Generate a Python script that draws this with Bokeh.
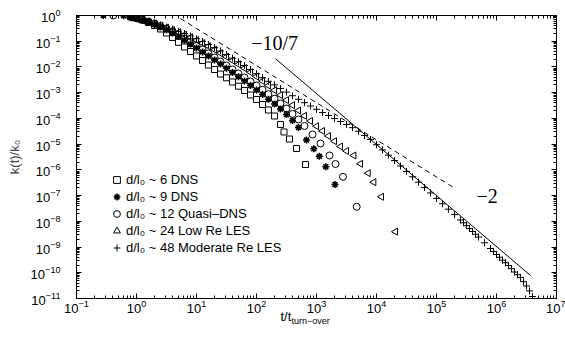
import numpy as np
from bokeh.plotting import figure
from bokeh.models import (Range1d, LogAxis, FixedTicker, Legend, LegendItem, Label, Title,
                          CustomJSTickFormatter)
from bokeh.embed import file_html
from bokeh.resources import INLINE

# ---------------- data ----------------
sq_t = [0.794, 1.0, 1.26, 1.58, 2.0, 2.51, 3.16, 3.98, 5.01, 6.31, 7.94, 10.0, 12.6, 15.8, 20.0,
        25.1, 31.6, 39.8, 50.1, 63.1, 79.4, 100, 126, 158, 200, 251, 287, 355, 464, 656]
sq_k = [0.914, 0.800, 0.668, 0.534, 0.409, 0.299, 0.209, 0.140, 0.0909, 0.0597, 0.0399, 0.0267,
        0.0178, 0.0119, 7.96e-3, 5.28e-3, 3.79e-3, 2.60e-3, 1.79e-3, 1.22e-3, 8.13e-4, 5.44e-4,
        3.47e-4, 2.12e-4, 1.24e-4, 5.81e-5, 2.97e-5, 1.58e-5, 6.78e-6, 1.62e-6]

st_t = [0.28, 0.61, 0.794, 1.0, 1.26, 1.58, 2.0, 2.51, 3.16, 3.98, 5.01, 6.31, 7.94, 10, 12.6,
        15.8, 20, 25.1, 31.6, 39.8, 50.1, 63.1, 79.4, 100, 126, 158, 200, 251, 316, 398, 501,
        681, 902, 1114, 1429, 2032]
st_k = [1.0, 0.98, 0.851, 0.764, 0.651, 0.544, 0.447, 0.354, 0.273, 0.207, 0.153, 0.109, 0.0773,
        0.0546, 0.0382, 0.0267, 0.0186, 0.0130, 8.87e-3, 6.09e-3, 4.18e-3, 2.85e-3, 1.90e-3,
        1.27e-3, 8.51e-4, 5.58e-4, 3.63e-4, 2.32e-4, 1.42e-4, 8.30e-5, 4.44e-5,
        1.45e-5, 6.59e-6, 3.37e-6, 1.32e-6, 2.70e-7]

ci_t = [0.41, 0.794, 1.0, 1.26, 1.58, 2.0, 2.51, 3.16, 3.98, 5.01, 6.31, 7.94, 10, 12.6, 15.8,
        20, 25.1, 31.6, 39.8, 50.1, 63.1, 79.4, 100, 126, 158, 200, 251, 316, 398, 501, 631,
        858, 1167, 1648, 2075, 2767, 4677]
ci_k = [1.0, 0.874, 0.792, 0.687, 0.584, 0.489, 0.391, 0.312, 0.239, 0.178, 0.128, 0.0933,
        0.0664, 0.0477, 0.0333, 0.0233, 0.0163, 0.0114, 7.96e-3, 5.57e-3, 3.89e-3, 2.72e-3,
        1.90e-3, 1.30e-3, 8.73e-4, 5.84e-4, 3.80e-4, 2.43e-4, 1.49e-4, 9.08e-5, 5.07e-5,
        2.37e-5, 1.06e-5, 3.62e-6, 1.69e-6, 5.38e-7, 3.67e-8]

tr_t = [0.794, 1.0, 1.26, 1.58, 2.0, 2.51, 3.16, 3.98, 5.01, 6.31, 7.94, 10, 12.6, 15.8, 20,
        25.1, 31.6, 39.8, 50.1, 63.1, 79.4, 100, 126, 158, 200, 251, 316, 398, 501, 631, 794,
        1000, 1259, 1585, 1995, 2512, 3162, 4190, 5410, 7270, 9020, 12100, 20700]
tr_k = [0.821, 0.738, 0.651, 0.564, 0.480, 0.405, 0.333, 0.273, 0.222, 0.179, 0.142, 0.111,
        0.0846, 0.0635, 0.0469, 0.0343, 0.0248, 0.0178, 0.01268, 8.95e-3, 6.20e-3, 4.26e-3,
        2.85e-3, 1.90e-3, 1.25e-3, 8.05e-4, 5.15e-4, 3.27e-4, 2.03e-4, 1.26e-4, 7.94e-5,
        4.99e-5, 3.24e-5, 2.07e-5, 1.30e-5, 8.1e-6, 5.42e-6, 3.62e-6, 1.72e-6, 7.43e-7,
        3.32e-7, 9.0e-8, 3.96e-9]

cr_t = [0.794, 1.0, 1.26, 1.58, 2.0, 2.51, 3.16, 3.98, 5.01, 6.31, 7.94,
        10, 12.6, 15.8, 20, 25.1, 31.6, 39.8, 50.1, 63.1, 79.4,
        100, 126, 158, 200, 251, 316, 398, 501, 631, 794,
        1000, 1259, 1585, 1995, 2512, 3162, 3981, 5012, 6310, 7943,
        1.0e4, 1.26e4, 1.58e4, 2.0e4, 2.51e4, 3.16e4, 3.98e4, 5.01e4, 6.31e4, 7.94e4,
        1.0e5, 1.26e5, 1.58e5, 2.0e5, 2.51e5, 2.82e5, 3.16e5, 3.55e5, 3.98e5, 4.47e5, 5.01e5,
        6.31e5, 7.94e5, 8.91e5,
        1.0e6, 1.12e6, 1.26e6, 1.41e6, 1.58e6, 1.78e6, 2.0e6, 2.24e6, 2.51e6, 2.82e6, 3.16e6,
        3.55e6, 3.98e6]
cr_k = [0.84, 0.75, 0.67, 0.58, 0.50, 0.43, 0.354, 0.294, 0.243, 0.20, 0.16,
        0.125, 0.098, 0.0746, 0.0561, 0.0417, 0.0305, 0.0219, 0.0159, 0.0114, 7.96e-3,
        5.47e-3, 3.83e-3, 2.77e-3, 2.01e-3, 1.46e-3, 1.05e-3, 7.64e-4, 5.53e-4, 4.08e-4, 3.04e-4,
        2.26e-4, 1.70e-4, 1.30e-4, 9.93e-5, 7.59e-5, 5.81e-5, 4.36e-5, 3.16e-5, 2.17e-5, 1.52e-5,
        9.5e-6, 6.0e-6, 3.72e-6, 2.30e-6, 1.42e-6, 8.73e-7, 5.38e-7, 3.32e-7, 2.05e-7, 1.26e-7,
        7.8e-8, 4.81e-8, 2.96e-8, 1.83e-8, 1.13e-8, 8.77e-9, 6.78e-9, 5.22e-9, 4.03e-9, 3.13e-9,
        2.44e-9, 1.47e-9, 8.79e-10, 6.73e-10,
        5.14e-10, 4.0e-10, 3.09e-10, 2.45e-10, 1.92e-10, 1.44e-10, 1.07e-10, 8.43e-11, 6.56e-11,
        4.51e-11, 3.07e-11, 1.96e-11, 1.20e-11]

# reference power-law guide lines (end points)
slope107_t = [5.4, 1.9e5]
slope107_k = [0.76, 2.1e-7]
slope2_t = [207, 3.7e6]
slope2_k = [0.021, 7.8e-11]

legend_labels = ["d/l\u2080 ~ 6 DNS", "d/l\u2080 ~ 9 DNS", "d/l\u2080 ~ 12 Quasi\u2013DNS",
                 "d/l\u2080 ~ 24 Low Re LES", "d/l\u2080 ~ 48 Moderate Re LES"]

x_major = [10.0 ** e for e in range(-1, 8)]
y_major = [10.0 ** e for e in range(-11, 1)]
x_minor = [m * 10.0 ** e for e in range(-1, 7) for m in range(2, 10)]
y_minor = [m * 10.0 ** e for e in range(-11, 0) for m in range(2, 10)]

# ---------------- figure ----------------
FONT = "Liberation Sans"
p = figure(width=565, height=345, x_axis_type="log", y_axis_type="log",
           x_range=Range1d(1e-1, 1e7), y_range=Range1d(1e-11, 1e0),
           output_backend="svg", toolbar_location=None,
           min_border_left=76, min_border_right=9, min_border_top=15, min_border_bottom=47)
p.grid.visible = False
p.outline_line_color = "black"
p.outline_line_width = 1
p.background_fill_color = "white"
p.border_fill_color = "white"


def style_axis(ax, ticker, labels=True):
    ax.ticker = ticker
    ax.axis_line_color = "black"
    ax.major_tick_line_color = "black"
    ax.minor_tick_line_color = "black"
    ax.major_tick_in = 5
    ax.major_tick_out = 0
    ax.minor_tick_in = 3
    ax.minor_tick_out = 0
    ax.major_label_text_font = FONT
    ax.major_label_text_color = "black"
    ax.major_label_text_font_size = "13px"
    if not labels:
        ax.major_label_text_alpha = 0
        ax.major_label_text_font_size = "1px"
        ax.major_label_standoff = 0
        ax.axis_label_standoff = 0
        ax.axis_label_text_font_size = "1px"


xt = FixedTicker(ticks=x_major, minor_ticks=x_minor)
yt = FixedTicker(ticks=y_major, minor_ticks=y_minor)
style_axis(p.xaxis[0], xt)
style_axis(p.yaxis[0], yt)
p.xaxis[0].major_label_standoff = 1
p.yaxis[0].major_label_standoff = 16
p.yaxis[0].axis_label = "k(t)/k\u2080"
p.yaxis[0].axis_label_text_font = FONT
p.yaxis[0].axis_label_text_font_size = "13px"
p.yaxis[0].axis_label_text_font_style = "normal"
p.yaxis[0].axis_label_standoff = 6

top = LogAxis()
style_axis(top, FixedTicker(ticks=x_major, minor_ticks=x_minor), labels=False)
p.add_layout(top, "above")
right = LogAxis()
style_axis(right, FixedTicker(ticks=y_major, minor_ticks=y_minor), labels=False)
right.formatter = CustomJSTickFormatter(code="return ' '")
p.add_layout(right, "right")

# x-axis title "t/t" with subscript "turn-over"
p.add_layout(Title(text="t/t", align="left", offset=204, text_font=FONT, text_font_size="13px",
                   text_font_style="normal", text_color="black", standoff=-17), "below")
p.add_layout(Title(text="turn\u2212over", align="left", offset=215, text_font=FONT,
                   text_font_size="9px", text_font_style="normal", text_color="black",
                   standoff=-4), "below")

# guide lines
p.line(slope107_t, slope107_k, line_color="black", line_width=1, line_dash="5 4")
p.line(slope2_t, slope2_k, line_color="black", line_width=1)

# series
r_sq = p.scatter(sq_t, sq_k, marker="square", size=6, fill_color=None, line_color="black", line_width=1)
r_st = p.scatter(st_t, st_k, marker="asterisk", size=7, line_color="black", line_width=1.6)
r_ci = p.scatter(ci_t, ci_k, marker="circle", size=7, fill_color=None, line_color="black", line_width=1)
r_tr = p.scatter(tr_t, tr_k, marker="triangle", size=7, angle=np.pi / 2, fill_color=None,
                 line_color="black", line_width=1)
r_cr = p.scatter(cr_t, cr_k, marker="cross", size=7, line_color="black", line_width=1)

legend = Legend(items=[LegendItem(label=lab, renderers=[r]) for lab, r in
                       zip(legend_labels, [r_sq, r_st, r_ci, r_tr, r_cr])],
                location=(32, 42), padding=0, margin=0, spacing=0,
                glyph_width=17, glyph_height=17, label_height=17, label_standoff=1,
                border_line_color=None, background_fill_alpha=0,
                label_text_font=FONT, label_text_font_size="13px", label_text_color="black")
p.add_layout(legend)

# slope labels
p.add_layout(Label(x=200, y=0.089, text="\u221210/7", text_font="Liberation Serif",
                   text_font_size="20px", text_align="center", text_baseline="middle",
                   text_color="black"))
p.add_layout(Label(x=7.0e5, y=9.3e-8, text="\u22122", text_font="Liberation Serif",
                   text_font_size="20px", text_align="center", text_baseline="middle",
                   text_color="black"))

open("out.html", "w").write(file_html(p, INLINE))
